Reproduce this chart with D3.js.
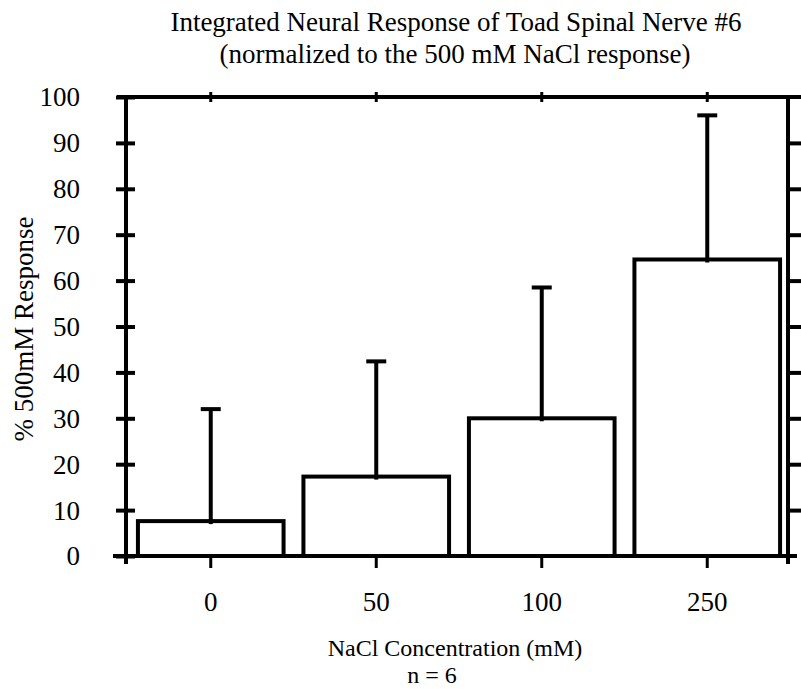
<!DOCTYPE html>
<html>
<head>
<meta charset="utf-8">
<script src="https://cdn.jsdelivr.net/npm/d3@7"></script>
<style>
  html, body { margin: 0; padding: 0; background: #fff; }
  svg { display: block; }
  text { font-family: "Liberation Serif", "Times New Roman", serif; fill: #000; }
</style>
</head>
<body>
<script>
// ---- data ----
const categories = ["0", "50", "100", "250"];
const means = [7.6, 17.3, 30.0, 64.6];
const errors = [24.4, 25.1, 28.5, 31.4];
const yTicks = [0, 10, 20, 30, 40, 50, 60, 70, 80, 90, 100];
const titleLines = ["Integrated Neural Response of Toad Spinal Nerve #6",
                    "(normalized to the 500 mM NaCl response)"];
const xTitle = "NaCl Concentration (mM)";
const nLabel = "n = 6";
const yTitle = "% 500mM Response";

// ---- layout ----
const W = 801, H = 689;
const pL = 126, pR = 788, pT = 97, pB = 556;
const sw = 4;
const fs = 27;

const svg = d3.select("body").append("svg").attr("width", W).attr("height", H);

const x = d3.scaleBand().domain(categories).range([pL + 2, pR + 2])
  .paddingInner(0.12).paddingOuter(0.06);
const y = d3.scaleLinear().domain([0, 100]).range([pB, pT]);

// bars
svg.append("g").selectAll("rect").data(categories).join("rect")
  .attr("x", d => x(d))
  .attr("y", (d, i) => y(means[i]))
  .attr("width", x.bandwidth())
  .attr("height", (d, i) => y(0) - y(means[i]))
  .attr("fill", "#fff").attr("stroke", "#000").attr("stroke-width", sw);

// error bars
const eg = svg.append("g").attr("stroke", "#000").attr("stroke-width", sw);
categories.forEach((c, i) => {
  const cx = x(c) + x.bandwidth() / 2;
  eg.append("line").attr("x1", cx).attr("x2", cx)
    .attr("y1", y(means[i]) + 3).attr("y2", y(means[i] + errors[i]));
  eg.append("line").attr("x1", cx - 10).attr("x2", cx + 10)
    .attr("y1", y(means[i] + errors[i])).attr("y2", y(means[i] + errors[i]));
});

// frame lines
const fg = svg.append("g").attr("stroke", "#000").attr("stroke-width", sw).attr("stroke-linecap", "butt");
fg.append("line").attr("x1", 113).attr("x2", 797).attr("y1", pB).attr("y2", pB);
fg.append("line").attr("x1", 117).attr("x2", 801).attr("y1", pT).attr("y2", pT);
fg.append("line").attr("x1", pL).attr("x2", pL).attr("y1", pT - 2).attr("y2", pB + 8);
fg.append("line").attr("x1", pR).attr("x2", pR).attr("y1", pT - 2).attr("y2", pB + 8);

// left axis (crossing ticks) via d3 axis
const yAxisL = svg.append("g").attr("transform", `translate(${pL + 9},0)`)
  .call(d3.axisLeft(y).tickValues(yTicks).tickSize(19).tickPadding(36).tickFormat(d3.format("d")));
yAxisL.select(".domain").remove();
yAxisL.selectAll(".tick line").attr("stroke", "#000").attr("stroke-width", sw);
yAxisL.selectAll(".tick text").attr("font-size", fs).attr("dy", "0.33em")
  .style("font-family", '"Liberation Serif", serif');

// right axis ticks
const yAxisR = svg.append("g").attr("transform", `translate(${pR},0)`)
  .call(d3.axisRight(y).tickValues(yTicks.slice(1, -1)).tickSize(14).tickFormat(""));
yAxisR.select(".domain").remove();
yAxisR.selectAll(".tick line").attr("stroke", "#000").attr("stroke-width", sw);

// bottom axis
const xAxisB = svg.append("g").attr("transform", `translate(0,${pB})`)
  .call(d3.axisBottom(x).tickSize(12).tickPadding(24));
xAxisB.select(".domain").remove();
xAxisB.selectAll(".tick line").attr("stroke", "#000").attr("stroke-width", 3);
xAxisB.selectAll(".tick text").attr("font-size", fs)
  .style("font-family", '"Liberation Serif", serif');

// top axis small crossing ticks
const xAxisT = svg.append("g").attr("transform", `translate(0,${pT + 5})`)
  .call(d3.axisTop(x).tickSize(10).tickFormat(""));
xAxisT.select(".domain").remove();
xAxisT.selectAll(".tick line").attr("stroke", "#000").attr("stroke-width", 3);

// titles
svg.append("text").attr("x", 456).attr("y", 31).attr("text-anchor", "middle")
  .attr("font-size", fs).text(titleLines[0]);
svg.append("text").attr("x", 455).attr("y", 63).attr("text-anchor", "middle")
  .attr("font-size", fs).text(titleLines[1]);
svg.append("text").attr("x", 455).attr("y", 656).attr("text-anchor", "middle")
  .attr("font-size", 24).text(xTitle);
svg.append("text").attr("x", 432).attr("y", 683).attr("text-anchor", "middle")
  .attr("font-size", 24).text(nLabel);
svg.append("text").attr("transform", "translate(33,329) rotate(-90)")
  .attr("text-anchor", "middle").attr("font-size", fs).text(yTitle);
</script>
</body>
</html>
